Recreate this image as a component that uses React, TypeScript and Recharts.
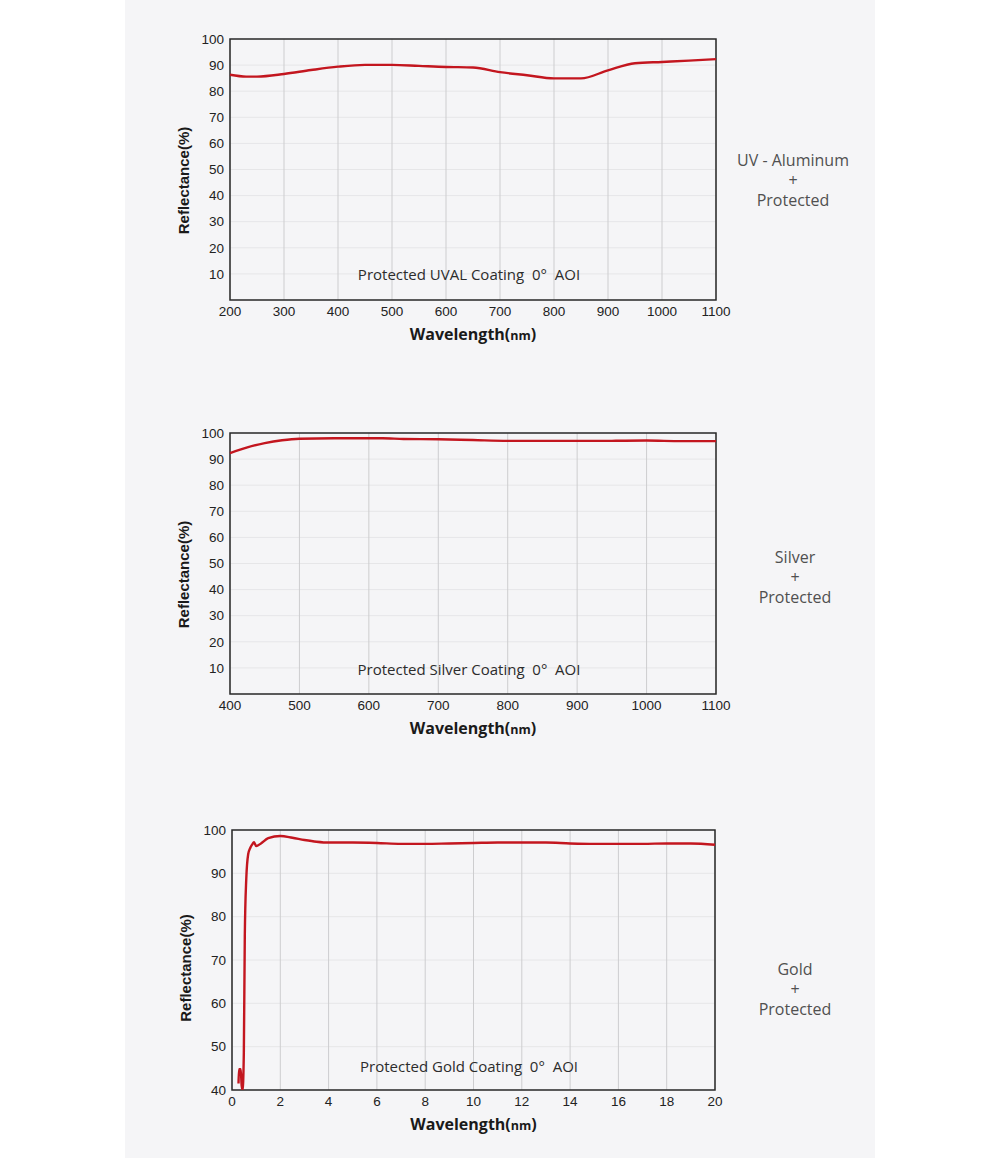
import React from 'react';
import {
  LineChart,
  Line,
  XAxis,
  YAxis,
  CartesianGrid,
  ReferenceArea,
} from 'recharts';

// UV aluminum, 200-1100 nm
const uvalWavelength = [200, 230, 250, 300, 350, 400, 450, 500, 550, 600, 650, 700, 750, 800, 850, 900, 950, 1000, 1050, 1100];
const uvalReflectance = [86.3, 85.6, 85.6, 86.6, 88.1, 89.4, 90.1, 90.1, 89.7, 89.3, 89.1, 87.3, 86.1, 84.9, 84.9, 88.0, 90.7, 91.2, 91.7, 92.3];

// silver, 400-1100 nm
const silverWavelength = [400, 425, 450, 475, 500, 550, 600, 620, 650, 700, 750, 800, 850, 900, 950, 1000, 1050, 1100];
const silverReflectance = [92.3, 94.5, 96.1, 97.2, 97.8, 98.0, 98.0, 98.0, 97.7, 97.6, 97.3, 97.0, 97.0, 97.0, 97.0, 97.1, 96.9, 96.9];

// gold, 0-20
const goldWavelength = [0.27, 0.29, 0.36, 0.4, 0.44, 0.49, 0.53, 0.59, 0.67, 0.75, 0.84, 0.91, 1.0, 1.2, 1.5, 2.0, 2.5, 3.0, 3.5, 4, 5, 6, 7, 8, 9, 10, 11, 12, 13, 14, 15, 16, 17, 18, 19, 20];
const goldReflectance = [41.5, 44.8, 44.8, 41, 40, 48.6, 75.5, 88.6, 94.4, 95.8, 96.7, 97.2, 96.3, 96.9, 98.1, 98.6, 98.2, 97.7, 97.3, 97.1, 97.1, 97.0, 96.8, 96.8, 96.9, 97.0, 97.1, 97.1, 97.1, 96.9, 96.8, 96.8, 96.8, 96.9, 96.9, 96.6];

const uvalTicks = [200, 300, 400, 500, 600, 700, 800, 900, 1000, 1100];
const silverTicks = [400, 500, 600, 700, 800, 900, 1000, 1100];
const goldTicks = [0, 2, 4, 6, 8, 10, 12, 14, 16, 18, 20];
const pctTicks = [10, 20, 30, 40, 50, 60, 70, 80, 90, 100];
const goldPctTicks = [40, 50, 60, 70, 80, 90, 100];

const uvalCaption = ['UV - Aluminum', '+', 'Protected'];
const silverCaption = ['Silver', '+', 'Protected'];
const goldCaption = ['Gold', '+', 'Protected'];

const PANEL = '#f5f5f7';
const RED = '#c3161f';

const toRows = (xs: number[], ys: number[]) => xs.map((x, i) => ({ x, r: ys[i] }));

const XTitle = ({ viewBox }: any) => {
  if (!viewBox) return null;
  const { x, y, width } = viewBox;
  return (
    <text
      x={x + width / 2}
      y={y + 40}
      textAnchor="middle"
      fill="#1a1a1a"
      fontWeight="bold"
      style={{ fontFamily: '"Open Sans", sans-serif' }}
    >
      <tspan fontSize={16}>Wavelength(</tspan>
      <tspan fontSize={12.5}>nm</tspan>
      <tspan fontSize={16}>)</tspan>
    </text>
  );
};

const makeYTitle = (shift: number) => ({ viewBox }: any) => {
  if (!viewBox) return null;
  const { x, y, width, height } = viewBox;
  const cx = x + width - 47;
  const cy = y + height / 2 + shift;
  return (
    <text
      x={cx}
      y={cy}
      transform={`rotate(-90 ${cx} ${cy})`}
      textAnchor="middle"
      dominantBaseline="central"
      fill="#1a1a1a"
      fontWeight="bold"
      fontSize={15}
      style={{ fontFamily: '"Liberation Sans", Arial, sans-serif' }}
    >
      Reflectance(%)
    </text>
  );
};

interface PanelProps {
  top: number;
  left: number;
  right: number;
  plotHeight: number;
  xs: number[];
  ys: number[];
  xTicks: number[];
  yTicks: number[];
  xDomain: [number, number];
  yDomain: [number, number];
  yTitleShift: number;
}

const CoatingChart = ({ top, left, right, plotHeight, xs, ys, xTicks, yTicks, xDomain, yDomain, yTitleShift }: PanelProps) => {
  const data = toRows(xs, ys);
  const height = 39 + plotHeight + 60;
  const tickStyle = { fill: '#222', fontSize: 13.5, fontFamily: '"Liberation Sans", Arial, sans-serif' };
  return (
    <div style={{ position: 'absolute', left: 0, top, width: 1000, height }}>
      <LineChart width={1000} height={height} data={data} margin={{ top: 39, right, bottom: 30, left: left - 60 }}>
        <CartesianGrid vertical={false} stroke="#e6e6e8" />
        <CartesianGrid horizontal={false} stroke="#cdcdcf" />
        <XAxis
          dataKey="x"
          type="number"
          domain={xDomain}
          ticks={xTicks}
          interval={0}
          height={30}
          tickLine={false}
          tickSize={0}
          tickMargin={6}
          axisLine={false}
          tick={tickStyle}
          label={{ content: XTitle }}
        />
        <YAxis
          type="number"
          domain={yDomain}
          ticks={yTicks}
          interval={0}
          width={60}
          tickLine={false}
          tickSize={0}
          tickMargin={6}
          axisLine={false}
          tick={tickStyle}
          allowDataOverflow
          label={{ content: makeYTitle(yTitleShift) }}
        />
        <ReferenceArea
          x1={xDomain[0]}
          x2={xDomain[1]}
          y1={yDomain[0]}
          y2={yDomain[1]}
          fill="none"
          stroke="#2a2a2a"
          strokeWidth={1.5}
          ifOverflow="visible"
        />
        <Line
          type="monotone"
          dataKey="r"
          stroke={RED}
          strokeWidth={2.4}
          dot={false}
          activeDot={false}
          isAnimationActive={false}
        />
      </LineChart>
    </div>
  );
};

const Note = ({ x, y, text }: { x: number; y: number; text: string }) => (
  <div
    style={{
      position: 'absolute',
      left: x,
      top: y,
      transform: 'translate(-50%, -50%)',
      whiteSpace: 'pre',
      fontFamily: '"Open Sans", sans-serif',
      fontSize: 15,
      color: '#2c2c2c',
    }}
  >
    {text}
  </div>
);

const Caption = ({ x, y, lines }: { x: number; y: number; lines: string[] }) => (
  <div
    style={{
      position: 'absolute',
      left: x,
      top: y,
      transform: 'translate(-50%, -50%)',
      textAlign: 'center',
      whiteSpace: 'nowrap',
      fontFamily: '"Open Sans", sans-serif',
      fontSize: 16,
      lineHeight: '20px',
      color: '#505050',
    }}
  >
    {lines.map((l) => (
      <div key={l}>{l}</div>
    ))}
  </div>
);

export default function App() {
  return (
    <div style={{ position: 'relative', width: 1000, height: 1158, background: '#fff', overflow: 'hidden' }}>
      <style>{'body{margin:0}'}</style>
      <div style={{ position: 'absolute', left: 125, top: 0, width: 750, height: 1158, background: PANEL }} />
      <CoatingChart
        top={0}
        left={230}
        right={284}
        plotHeight={261}
        xs={uvalWavelength}
        ys={uvalReflectance}
        xTicks={uvalTicks}
        yTicks={pctTicks}
        xDomain={[200, 1100]}
        yDomain={[0, 100]}
        yTitleShift={11}
      />
      <CoatingChart
        top={394}
        left={230}
        right={284}
        plotHeight={261}
        xs={silverWavelength}
        ys={silverReflectance}
        xTicks={silverTicks}
        yTicks={pctTicks}
        xDomain={[400, 1100]}
        yDomain={[0, 100]}
        yTitleShift={11}
      />
      <CoatingChart
        top={791}
        left={232}
        right={285}
        plotHeight={260}
        xs={goldWavelength}
        ys={goldReflectance}
        xTicks={goldTicks}
        yTicks={goldPctTicks}
        xDomain={[0, 20]}
        yDomain={[40, 100]}
        yTitleShift={8}
      />
      <Note x={469} y={274} text={'Protected UVAL Coating  0°  AOI'} />
      <Note x={469} y={669} text={'Protected Silver Coating  0°  AOI'} />
      <Note x={469} y={1066} text={'Protected Gold Coating  0°  AOI'} />
      <Caption x={793} y={180} lines={uvalCaption} />
      <Caption x={795} y={577} lines={silverCaption} />
      <Caption x={795} y={989} lines={goldCaption} />
    </div>
  );
}
